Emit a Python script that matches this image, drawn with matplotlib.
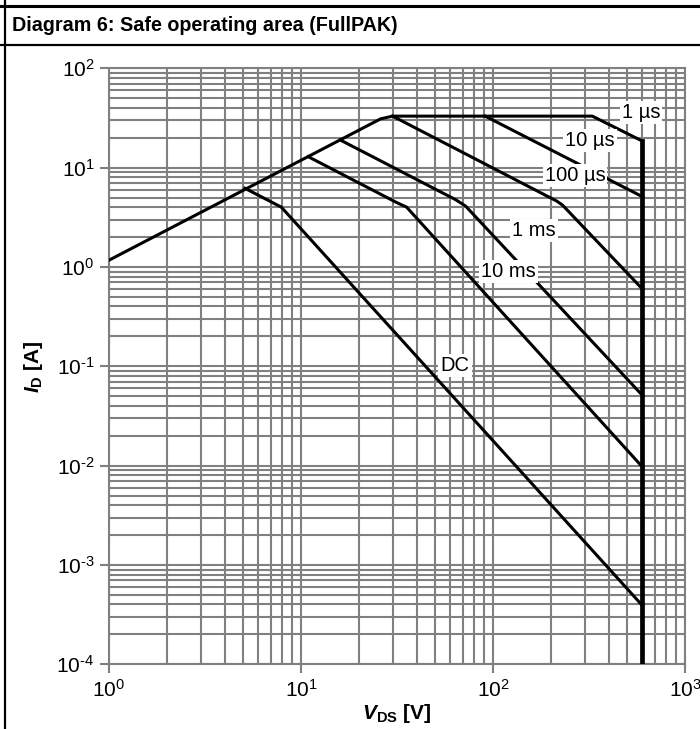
import matplotlib
matplotlib.use("Agg")
import matplotlib.pyplot as plt
from matplotlib.lines import Line2D
from matplotlib.ticker import LogLocator, NullFormatter, FuncFormatter
import numpy as np

plt.rcParams['font.family'] = ['Liberation Sans', 'DejaVu Sans']
plt.rcParams['mathtext.fontset'] = 'custom'
plt.rcParams['mathtext.rm'] = 'Liberation Sans'
plt.rcParams['mathtext.it'] = 'Liberation Sans:italic'
plt.rcParams['mathtext.bf'] = 'Liberation Sans:bold'
plt.rcParams['mathtext.bfit'] = 'Liberation Sans:italic:bold'
plt.rcParams['axes.unicode_minus'] = False

# envelope: R_DS(on) limit, current limit, then 1 us pulse
env_v = [1, 26, 30, 329, 600]
env_i = [1.17, 31, 33, 33, 18.5]

us10_v = [91, 600]
us10_i = [33, 5.1]

us100_v = [30, 215, 230, 600]
us100_i = [33, 4.6, 4.2, 0.6]

ms1_v = [16, 64, 72, 600]
ms1_i = [19, 4.75, 4.1, 0.051]

ms10_v = [10.9, 31.5, 35.5, 600]
ms10_i = [12.9, 4.45, 4.0, 0.0097]

dc_v = [5.1, 7.1, 7.9, 600]
dc_i = [6.2, 4.45, 4.0, 0.00039]

vmax = 600
vmax_i = [1e-4, 18.5]

labels = ["1 µs", "10 µs", "100 µs", "1 ms", "10 ms", "DC"]
label_v = [590, 320, 267, 164, 120, 63.4]
label_i = [35.5, 18.9, 8.4, 2.35, 0.895, 0.101]


def pow10(x, pos):
    e = int(round(np.log10(x)))
    if e < 0:
        return r'$\mathdefault{10^{\text{-}%d}}$' % (-e)
    return r'$\mathdefault{10^{%d}}$' % e


W, H = 700, 729
fig = plt.figure(figsize=(W / 100, H / 100), dpi=100)
ax = fig.add_axes([109 / W, 64.7 / H, 576 / W, 596 / H])
ax.set_xscale('log')
ax.set_yscale('log')
ax.set_xlim(1, 1000)
ax.set_ylim(1e-4, 1e2)

grey = '#808080'
ax.grid(which='both', color=grey, lw=1.5, zorder=0)
ax.set_axisbelow(True)
for s in ax.spines.values():
    s.set_color(grey)
    s.set_linewidth(1.5)

ax.xaxis.set_major_locator(LogLocator(base=10, numticks=10))
ax.yaxis.set_major_locator(LogLocator(base=10, numticks=10))
ax.xaxis.set_minor_locator(LogLocator(base=10, subs=range(2, 10), numticks=20))
ax.yaxis.set_minor_locator(LogLocator(base=10, subs=range(2, 10), numticks=20))
ax.xaxis.set_major_formatter(FuncFormatter(pow10))
ax.yaxis.set_major_formatter(FuncFormatter(pow10))
ax.xaxis.set_minor_formatter(NullFormatter())
ax.yaxis.set_minor_formatter(NullFormatter())
ax.tick_params(which='major', length=6.5, width=1.5, color=grey, labelsize=15, pad=4)
ax.tick_params(which='minor', length=0)
ax.xaxis.get_offset_text().set_visible(False)
ax.yaxis.get_offset_text().set_visible(False)

lw = 2.2
for v, i in [(env_v, env_i), (us10_v, us10_i), (us100_v, us100_i),
             (ms1_v, ms1_i), (ms10_v, ms10_i), (dc_v, dc_i)]:
    ax.plot(v, i, color='black', lw=lw, solid_joinstyle='round', zorder=3)
ax.plot([vmax, vmax], vmax_i, color='black', lw=3.4, zorder=3)

for t, v, i in zip(labels, label_v, label_i):
    ax.text(v, i, t, fontsize=14.5, ha='center', va='center', zorder=5,
            bbox=dict(facecolor='white', edgecolor='none', pad=1.5))

ax.set_xlabel(r'$\mathbfit{V}_{\mathbf{DS}}$ [V]', fontsize=15, fontweight='bold', labelpad=1)
ax.set_ylabel(r'$\mathbfit{I}_{\mathbf{D}}$ [A]', fontsize=15, fontweight='bold', labelpad=8)

# table-like header frame
fig.add_artist(Line2D([5 / W, 5 / W], [0, 1], color='black', lw=1.6, transform=fig.transFigure))
fig.add_artist(Line2D([0, 1], [1 - 6 / H, 1 - 6 / H], color='black', lw=2.2, transform=fig.transFigure))
fig.add_artist(Line2D([0, 1], [1 - 45 / H, 1 - 45 / H], color='black', lw=1.6, transform=fig.transFigure))
fig.text(12 / W, 1 - 31 / H, "Diagram 6: Safe operating area (FullPAK)",
         fontsize=14.2, fontweight='bold', va='baseline', ha='left')

fig.savefig('out.png', dpi=100)
